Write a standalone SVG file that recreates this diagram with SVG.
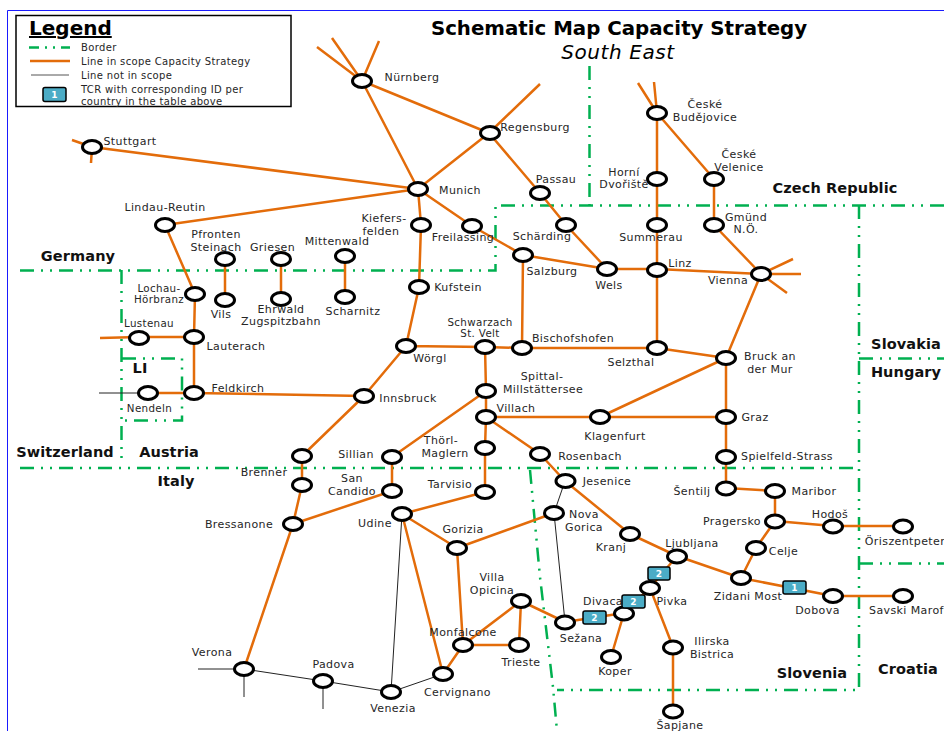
<svg xmlns="http://www.w3.org/2000/svg" width="944" height="731" viewBox="0 0 944 731">
<style>
text{font-family:"DejaVu Sans",Verdana,sans-serif;font-size:11px;letter-spacing:.4px;fill:#262626;text-anchor:middle}
.l{text-anchor:start}
.s{font-size:10px;letter-spacing:.35px}
.g{font-size:10.300px;letter-spacing:.35px}
.c{font-weight:bold;font-size:14.500px;letter-spacing:.1px;fill:#111}
.o{stroke:#E36C0A;stroke-width:2.500;fill:none}
.k{stroke:#222;stroke-width:1;fill:none}
.b{stroke:#00B050;stroke-width:2.500;fill:none;stroke-dasharray:14 7 2 7 2 7}
.n{fill:#fff;stroke:#000;stroke-width:3}
.t{fill:#4BACC6;stroke:#000;stroke-width:1.500}
.w{fill:#fff;font-weight:bold;font-size:9px;letter-spacing:0}
</style>
<rect width="944" height="731" fill="#fff"/>
<path d="M944 10.500H7.500V731" fill="none" stroke="#1a1aff" stroke-width="1"/>
<g id="borders">
<path class="b" d="M20 270.500H495.500V205.500H944"/>
<path class="b" d="M589.500 66V205"/>
<path class="b" d="M859 205V690H557"/>
<path class="b" d="M859 358.500H944"/>
<path class="b" d="M20 468H859"/>
<path class="b" d="M859 563.500H944"/>
<path class="b" d="M121.500 270V463"/>
<path class="b" d="M122 358.500H182V420.500H122"/>
<path class="b" d="M530 470L540 577L553 687L557 731"/>
</g>
<g id="connectors">
<path class="o" d="M317 47L362 81M332 38L362 81M379 41L362 81M362 81L489 133M362 81L418 189M489 133L418 189M489 133L540 84M489 133L540 193M540 193L566 225M566 225L607 269M418 189L421 225M418 189L472 226M472 226L523 255M523 255L607 269M523 255L522 348M421 225L419 287M419 287L406 346M406 346L485 347M485 347L522 348M522 348L657 348M657 348L726 358M485 347L486 391M486 391L486 417M486 391L392 457M392 457L392 491M392 491L293 524M364 396L302 456M302 456L302 485M302 485L293 524M293 524L244 669M406 346L364 396M194 393L364 396M194 337L194 393M195 294L194 337M165 225L195 294M165 225L418 189M92 147L418 189M72 140L92 147M92 147L91 163M139 337L194 337M100 338L139 337M148 393L194 393M225 259V299M281 259V299M345 256V297M607 269L657 269M657 269L761 274M657 225L657 269M657 269L657 348M657 179L657 225M657 113L657 179M657 113L714 179M714 179L714 225M714 225L761 274M638 83L657 113M654 82L657 113M793 259L761 274M801 274L761 274M787 293L761 274M761 274L726 358M726 358L600 417M726 358L726 417M486 417L600 417M600 417L726 417M726 417L726 457M726 457L726 488M726 488L775 491M775 491L775 521M775 521L833 526M833 526L903 526M775 521L756 548M756 548L741 578M741 578L677 556M741 578L833 596M833 596L903 596M677 556L630 534M630 534L565 481M565 481L540 454M540 454L486 417M486 417L485 448M485 448L485 492M485 492L402 514M402 514L457 548M402 514L443 674M457 548L463 645M457 548L554 513M463 645L443 674M463 645L521 601M463 645L519 645M521 601L519 645M521 601L565 622M565 622L624 613M624 613L650 588M650 588L677 556M624 613L611 657M650 588L673 647M673 647L673 711"/>
<path class="k" d="M198 669L244 669M244 669V697M244 669L323 681M323 681V709M323 681L391 692M391 692L443 674M391 692L402 514M565 481L554 513M554 513L565 622M99 393L148 393"/>
</g>
<g id="legend">
<rect x="16" y="15.500" width="275" height="91" fill="#fff" stroke="#000" stroke-width="1.500"/>
<text class="l" x="29" y="35" style="font-size:20px;letter-spacing:0;font-weight:bold;fill:#000;text-decoration:underline">Legend</text>
<path class="b" d="M29 47.500H70" style="stroke-dasharray:10 6 2 6 2 6"/>
<path class="o" d="M30 61H70"/>
<path class="k" d="M31 75H69" style="stroke:#555"/>
<rect class="t" x="43" y="87.500" width="23" height="14" rx="2"/>
<text class="w" x="54.500" y="98">1</text>
<text class="l s" x="81" y="51">Border</text>
<text class="l s" x="81" y="65">Line in scope Capacity Strategy</text>
<text class="l s" x="81" y="79">Line not in scope</text>
<text class="l s" x="81" y="93">TCR with corresponding ID per</text>
<text class="l s" x="81" y="105">country in the table above</text>
</g>
<g id="title">
<text x="619" y="35" style="font-size:19.800px;letter-spacing:0;font-weight:bold;fill:#000">Schematic Map Capacity Strategy</text>
<text x="618" y="59" style="font-size:20px;letter-spacing:.6px;font-style:italic;fill:#000">South East</text>
</g>
<g id="regions">
<text class="c" x="835" y="193">Czech Republic</text>
<text class="c" x="78" y="261">Germany</text>
<text class="c" x="906" y="349">Slovakia</text>
<text class="c" x="906" y="377">Hungary</text>
<text class="c" x="65" y="457">Switzerland</text>
<text class="c" x="169" y="457">Austria</text>
<text class="c" x="176" y="486">Italy</text>
<text class="c" x="140" y="373">LI</text>
<text class="c" x="812" y="678">Slovenia</text>
<text class="c" x="908" y="674">Croatia</text>
</g>
<g id="nuernberg"><ellipse class="n" cx="362" cy="81" rx="9.500" ry="6.500"/><text x="412" y="81">Nürnberg</text></g>
<g id="regensburg"><ellipse class="n" cx="490" cy="133" rx="9.500" ry="6.500"/><text x="535" y="131">Regensburg</text></g>
<g id="stuttgart"><ellipse class="n" cx="92" cy="147" rx="9.500" ry="6.500"/><text x="130" y="145">Stuttgart</text></g>
<g id="munich"><ellipse class="n" cx="418" cy="189" rx="9.500" ry="6.500"/><text x="460" y="194">Munich</text></g>
<g id="passau"><ellipse class="n" cx="540" cy="193" rx="9.500" ry="6.500"/><text x="556" y="183">Passau</text></g>
<g id="lindau"><ellipse class="n" cx="165" cy="225" rx="9.500" ry="6.500"/><text x="165" y="211">Lindau-Reutin</text></g>
<g id="kiefersfelden"><ellipse class="n" cx="421" cy="225" rx="9.500" ry="6.500"/><text x="384" y="222">Kiefers-</text><text x="381" y="235">felden</text></g>
<g id="freilassing"><ellipse class="n" cx="472" cy="226" rx="9.500" ry="6.500"/><text x="463" y="241">Freilassing</text></g>
<g id="schaerding"><ellipse class="n" cx="566" cy="225" rx="9.500" ry="6.500"/><text x="542" y="240">Schärding</text></g>
<g id="salzburg"><ellipse class="n" cx="523" cy="255" rx="9.500" ry="6.500"/><text x="552" y="275">Salzburg</text></g>
<g id="wels"><ellipse class="n" cx="607" cy="269" rx="9.500" ry="6.500"/><text x="609" y="289">Wels</text></g>
<g id="linz"><ellipse class="n" cx="657" cy="270" rx="9.500" ry="6.500"/><text x="680" y="267">Linz</text></g>
<g id="vienna"><ellipse class="n" cx="761" cy="274" rx="9.500" ry="6.500"/><text x="728" y="284">Vienna</text></g>
<g id="summerau"><ellipse class="n" cx="657" cy="225" rx="9.500" ry="6.500"/><text x="651" y="241">Summerau</text></g>
<g id="horni"><ellipse class="n" cx="657" cy="179" rx="9.500" ry="6.500"/><text x="624" y="176">Horní</text><text x="624" y="188">Dvořiště</text></g>
<g id="budejovice"><ellipse class="n" cx="657" cy="113" rx="9.500" ry="6.500"/><text x="705" y="108">České</text><text x="705" y="121">Budějovice</text></g>
<g id="velenice"><ellipse class="n" cx="714" cy="179" rx="9.500" ry="6.500"/><text x="739" y="158">České</text><text x="739" y="171">Velenice</text></g>
<g id="gmuend"><ellipse class="n" cx="714" cy="225" rx="9.500" ry="6.500"/><text x="746" y="221">Gmünd</text><text x="746" y="233">N.Ö.</text></g>
<g id="pfronten"><ellipse class="n" cx="225" cy="259" rx="9.500" ry="6.500"/><text x="216" y="238">Pfronten</text><text x="216" y="251">Steinach</text></g>
<g id="griesen"><ellipse class="n" cx="281" cy="259" rx="9.500" ry="6.500"/><text x="272.500" y="251">Griesen</text></g>
<g id="mittenwald"><ellipse class="n" cx="345" cy="256" rx="9.500" ry="6.500"/><text x="337" y="245">Mittenwald</text></g>
<g id="vils"><ellipse class="n" cx="225" cy="300" rx="9.500" ry="6.500"/><text x="221" y="318">Vils</text></g>
<g id="ehrwald"><ellipse class="n" cx="281" cy="299" rx="9.500" ry="6.500"/><text x="281" y="313">Ehrwald</text><text x="281" y="325">Zugspitzbahn</text></g>
<g id="scharnitz"><ellipse class="n" cx="345" cy="297" rx="9.500" ry="6.500"/><text x="353" y="315">Scharnitz</text></g>
<g id="lochau"><ellipse class="n" cx="195" cy="294" rx="9.500" ry="6.500"/><text class="g" x="159" y="292">Lochau-</text><text class="g" x="159" y="303">Hörbranz</text></g>
<g id="kufstein"><ellipse class="n" cx="419" cy="287" rx="9.500" ry="6.500"/><text x="458" y="291">Kufstein</text></g>
<g id="lustenau"><ellipse class="n" cx="139" cy="338" rx="9.500" ry="6.500"/><text class="g" x="149" y="327">Lustenau</text></g>
<g id="lauterach"><ellipse class="n" cx="194" cy="337" rx="9.500" ry="6.500"/><text x="236" y="350">Lauterach</text></g>
<g id="woergl"><ellipse class="n" cx="406" cy="346" rx="9.500" ry="6.500"/><text x="430" y="362">Wörgl</text></g>
<g id="schwarzach"><ellipse class="n" cx="485" cy="347" rx="9.500" ry="6.500"/><text class="g" x="480" y="326">Schwarzach</text><text class="g" x="480" y="337">St. Velt</text></g>
<g id="bischofshofen"><ellipse class="n" cx="522" cy="348" rx="9.500" ry="6.500"/><text x="573" y="342">Bischofshofen</text></g>
<g id="selzthal"><ellipse class="n" cx="657" cy="348" rx="9.500" ry="6.500"/><text x="631" y="366">Selzthal</text></g>
<g id="bruck"><ellipse class="n" cx="726" cy="358" rx="9.500" ry="6.500"/><text x="770" y="360">Bruck an</text><text x="770" y="373">der Mur</text></g>
<g id="spittal"><ellipse class="n" cx="486" cy="391" rx="9.500" ry="6.500"/><text x="542" y="380">Spittal-</text><text x="543" y="393">Millstättersee</text></g>
<g id="villach"><ellipse class="n" cx="486" cy="417" rx="9.500" ry="6.500"/><text x="516" y="412">Villach</text></g>
<g id="klagenfurt"><ellipse class="n" cx="600" cy="417" rx="9.500" ry="6.500"/><text x="615" y="440">Klagenfurt</text></g>
<g id="graz"><ellipse class="n" cx="726" cy="417" rx="9.500" ry="6.500"/><text x="755" y="421">Graz</text></g>
<g id="nendeln"><ellipse class="n" cx="148" cy="393" rx="9.500" ry="6.500"/><text class="g" x="149.500" y="412">Nendeln</text></g>
<g id="feldkirch"><ellipse class="n" cx="194" cy="393" rx="9.500" ry="6.500"/><text x="238" y="392">Feldkirch</text></g>
<g id="innsbruck"><ellipse class="n" cx="364" cy="396" rx="9.500" ry="6.500"/><text x="408" y="402">Innsbruck</text></g>
<g id="thoerl"><ellipse class="n" cx="485" cy="448" rx="9.500" ry="6.500"/><text x="441" y="444">Thörl-</text><text x="445" y="457">Maglern</text></g>
<g id="sillian"><ellipse class="n" cx="392" cy="457" rx="9.500" ry="6.500"/><text x="356" y="458">Sillian</text></g>
<g id="rosenbach"><ellipse class="n" cx="540" cy="454" rx="9.500" ry="6.500"/><text x="590" y="460">Rosenbach</text></g>
<g id="spielfeld"><ellipse class="n" cx="726" cy="457" rx="9.500" ry="6.500"/><text x="787" y="460">Spielfeld-Strass</text></g>
<g id="brennerA"><ellipse class="n" cx="302" cy="456" rx="9.500" ry="6.500"/></g>
<g id="brenner"><ellipse class="n" cx="302" cy="485" rx="9.500" ry="6.500"/><text x="264" y="476">Brenner</text></g>
<g id="tarvisio"><ellipse class="n" cx="485" cy="492" rx="9.500" ry="6.500"/><text x="450" y="488">Tarvisio</text></g>
<g id="sancandido"><ellipse class="n" cx="392" cy="491" rx="9.500" ry="6.500"/><text x="352" y="482">San</text><text x="352" y="495">Candido</text></g>
<g id="sentilj"><ellipse class="n" cx="726" cy="488.500" rx="9.500" ry="6.500"/><text x="692" y="495">Šentilj</text></g>
<g id="maribor"><ellipse class="n" cx="775" cy="491" rx="9.500" ry="6.500"/><text x="814" y="495">Maribor</text></g>
<g id="jesenice"><ellipse class="n" cx="565.500" cy="481" rx="9.500" ry="6.500"/><text x="607" y="485">Jesenice</text></g>
<g id="novagorica"><ellipse class="n" cx="554" cy="513" rx="9.500" ry="6.500"/><text x="584" y="518">Nova</text><text x="584" y="531">Gorica</text></g>
<g id="udine"><ellipse class="n" cx="402" cy="514" rx="9.500" ry="6.500"/><text x="375" y="527">Udine</text></g>
<g id="pragersko"><ellipse class="n" cx="775" cy="521.500" rx="9.500" ry="6.500"/><text x="732" y="525">Pragersko</text></g>
<g id="hodos"><ellipse class="n" cx="833" cy="526.500" rx="9.500" ry="6.500"/><text x="830" y="518">Hodoš</text></g>
<g id="oriszentpeter"><ellipse class="n" cx="903" cy="526.500" rx="9.500" ry="6.500"/><text x="905" y="545">Öriszentpeter</text></g>
<g id="bressanone"><ellipse class="n" cx="293" cy="524" rx="9.500" ry="6.500"/><text x="239" y="528">Bressanone</text></g>
<g id="gorizia"><ellipse class="n" cx="457" cy="548" rx="9.500" ry="6.500"/><text x="463" y="533">Gorizia</text></g>
<g id="kranj"><ellipse class="n" cx="630" cy="534" rx="9.500" ry="6.500"/><text x="611" y="551">Kranj</text></g>
<g id="ljubljana"><ellipse class="n" cx="677" cy="556.500" rx="9.500" ry="6.500"/><text x="692" y="547">Ljubljana</text></g>
<g id="celje"><ellipse class="n" cx="756" cy="548" rx="9.500" ry="6.500"/><text x="783.500" y="555">Celje</text></g>
<g id="zidanimost"><ellipse class="n" cx="741" cy="578" rx="9.500" ry="6.500"/><text x="748" y="600">Zidani Most</text></g>
<g id="dobova"><ellipse class="n" cx="833" cy="596" rx="9.500" ry="6.500"/><text x="817.500" y="614">Dobova</text></g>
<g id="savskimarof"><ellipse class="n" cx="903" cy="596" rx="9.500" ry="6.500"/><text class="l" x="869" y="614">Savski Marof</text></g>
<g id="pivka"><ellipse class="n" cx="650" cy="588" rx="9.500" ry="6.500"/><text x="672" y="605">Pivka</text></g>
<g id="divaca"><ellipse class="n" cx="624" cy="613.500" rx="9.500" ry="6.500"/><text x="603" y="605">Divaca</text></g>
<g id="sezana"><ellipse class="n" cx="565" cy="622.500" rx="9.500" ry="6.500"/><text x="581" y="642">Sežana</text></g>
<g id="villaopicina"><ellipse class="n" cx="521" cy="601" rx="9.500" ry="6.500"/><text x="492" y="581">Villa</text><text x="492" y="594">Opicina</text></g>
<g id="monfalcone"><ellipse class="n" cx="463" cy="645" rx="9.500" ry="6.500"/><text x="463" y="636">Monfalcone</text></g>
<g id="trieste"><ellipse class="n" cx="519" cy="645" rx="9.500" ry="6.500"/><text x="521" y="666">Trieste</text></g>
<g id="ilirska"><ellipse class="n" cx="673" cy="647.500" rx="9.500" ry="6.500"/><text x="712" y="645">Ilirska</text><text x="712" y="658">Bistrica</text></g>
<g id="koper"><ellipse class="n" cx="611" cy="657" rx="9.500" ry="6.500"/><text x="615" y="675">Koper</text></g>
<g id="sapjane"><ellipse class="n" cx="673" cy="711.500" rx="9.500" ry="6.500"/><text x="680" y="729">Šapjane</text></g>
<g id="verona"><ellipse class="n" cx="244" cy="669" rx="9.500" ry="6.500"/><text x="212" y="656">Verona</text></g>
<g id="padova"><ellipse class="n" cx="323" cy="681" rx="9.500" ry="6.500"/><text x="333.500" y="668">Padova</text></g>
<g id="venezia"><ellipse class="n" cx="391" cy="692" rx="9.500" ry="6.500"/><text x="393" y="712">Venezia</text></g>
<g id="cervignano"><ellipse class="n" cx="443" cy="674" rx="9.500" ry="6.500"/><text x="457.500" y="696">Cervignano</text></g>
<g id="tcr1"><rect class="t" x="783" y="581" width="23" height="13" rx="2"/><text class="w" x="794.500" y="591">1</text></g>
<g id="tcr2a"><rect class="t" x="648" y="567" width="22" height="13" rx="2"/><text class="w" x="659" y="577">2</text></g>
<g id="tcr2b"><rect class="t" x="622" y="595" width="23" height="13" rx="2"/><text class="w" x="633.500" y="605">2</text></g>
<g id="tcr2c"><rect class="t" x="583" y="611" width="23" height="13" rx="2"/><text class="w" x="594.500" y="621">2</text></g>
</svg>
